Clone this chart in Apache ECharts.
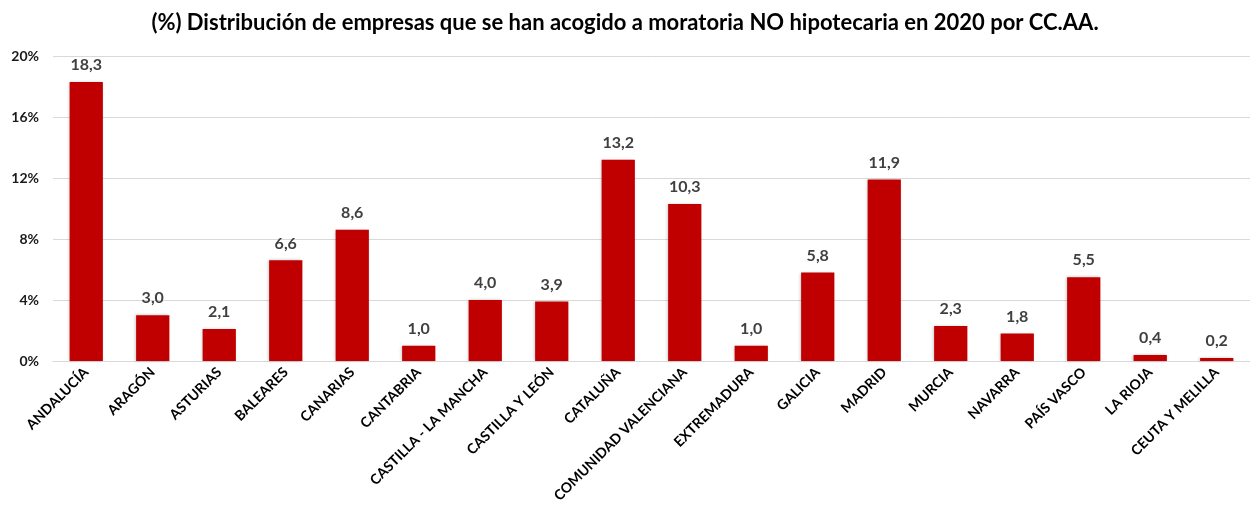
<!DOCTYPE html>
<html>
<head>
<meta charset="utf-8">
<script src="https://cdn.jsdelivr.net/npm/echarts@6/dist/echarts.min.js"></script>
<style>
  html, body { margin: 0; padding: 0; background: #fff; }
  #chart { width: 1250px; height: 506px; }
</style>
</head>
<body>
<div id="chart"></div>
<script>
var regiones = ['ANDALUCÍA', 'ARAGÓN', 'ASTURIAS', 'BALEARES', 'CANARIAS', 'CANTABRIA',
    'CASTILLA - LA MANCHA', 'CASTILLA Y LEÓN', 'CATALUÑA', 'COMUNIDAD VALENCIANA',
    'EXTREMADURA', 'GALICIA', 'MADRID', 'MURCIA', 'NAVARRA', 'PAÍS VASCO', 'LA RIOJA',
    'CEUTA Y MELILLA'];
var porcentajes = [18.3, 3.0, 2.1, 6.6, 8.6, 1.0, 4.0, 3.9, 13.2, 10.3, 1.0, 5.8, 11.9, 2.3, 1.8, 5.5, 0.4, 0.2];
var yTicks = [0, 4, 8, 12, 16, 20];

var myChart = echarts.init(document.getElementById('chart'));

var option = {
    animation: false,
    textStyle: { fontFamily: 'Lato' },
    title: {
        text: '(%) Distribución de empresas que se han acogido a moratoria NO hipotecaria en 2020 por CC.AA.',
        left: 'center',
        top: 7,
        textStyle: { fontFamily: 'Lato', fontWeight: 'bold', fontSize: 22, color: '#000' }
    },
    grid: { left: 53, right: 0, top: 56, bottom: 145, containLabel: false },
    xAxis: {
        type: 'category',
        data: regiones,
        axisTick: { show: false },
        axisLine: { lineStyle: { color: '#d9d9d9' } },
        axisLabel: {
            interval: 0,
            rotate: 45,
            margin: 9,
            fontFamily: 'Lato',
            fontWeight: 'bold',
            fontSize: 14,
            color: '#000'
        }
    },
    yAxis: {
        type: 'value',
        min: yTicks[0],
        max: yTicks[yTicks.length - 1],
        interval: 4,
        axisLine: { show: false },
        axisTick: { show: false },
        splitLine: { lineStyle: { color: '#d9d9d9' } },
        axisLabel: {
            margin: 14,
            fontFamily: 'Lato',
            fontWeight: 'bold',
            fontSize: 14,
            color: '#1a1a1a',
            formatter: '{value}%'
        }
    },
    series: [{
        type: 'bar',
        data: porcentajes,
        barWidth: '50%',
        itemStyle: {
            color: '#c00000',
            shadowColor: 'rgba(0,0,0,0.25)',
            shadowBlur: 3,
            shadowOffsetX: -1
        },
        label: {
            show: true,
            position: 'top',
            distance: 9,
            fontFamily: 'Lato',
            fontWeight: 'bold',
            fontSize: 16,
            color: '#404040',
            formatter: function (p) { return p.value.toFixed(1).replace('.', ','); }
        }
    }]
};

myChart.setOption(option);
</script>
</body>
</html>
